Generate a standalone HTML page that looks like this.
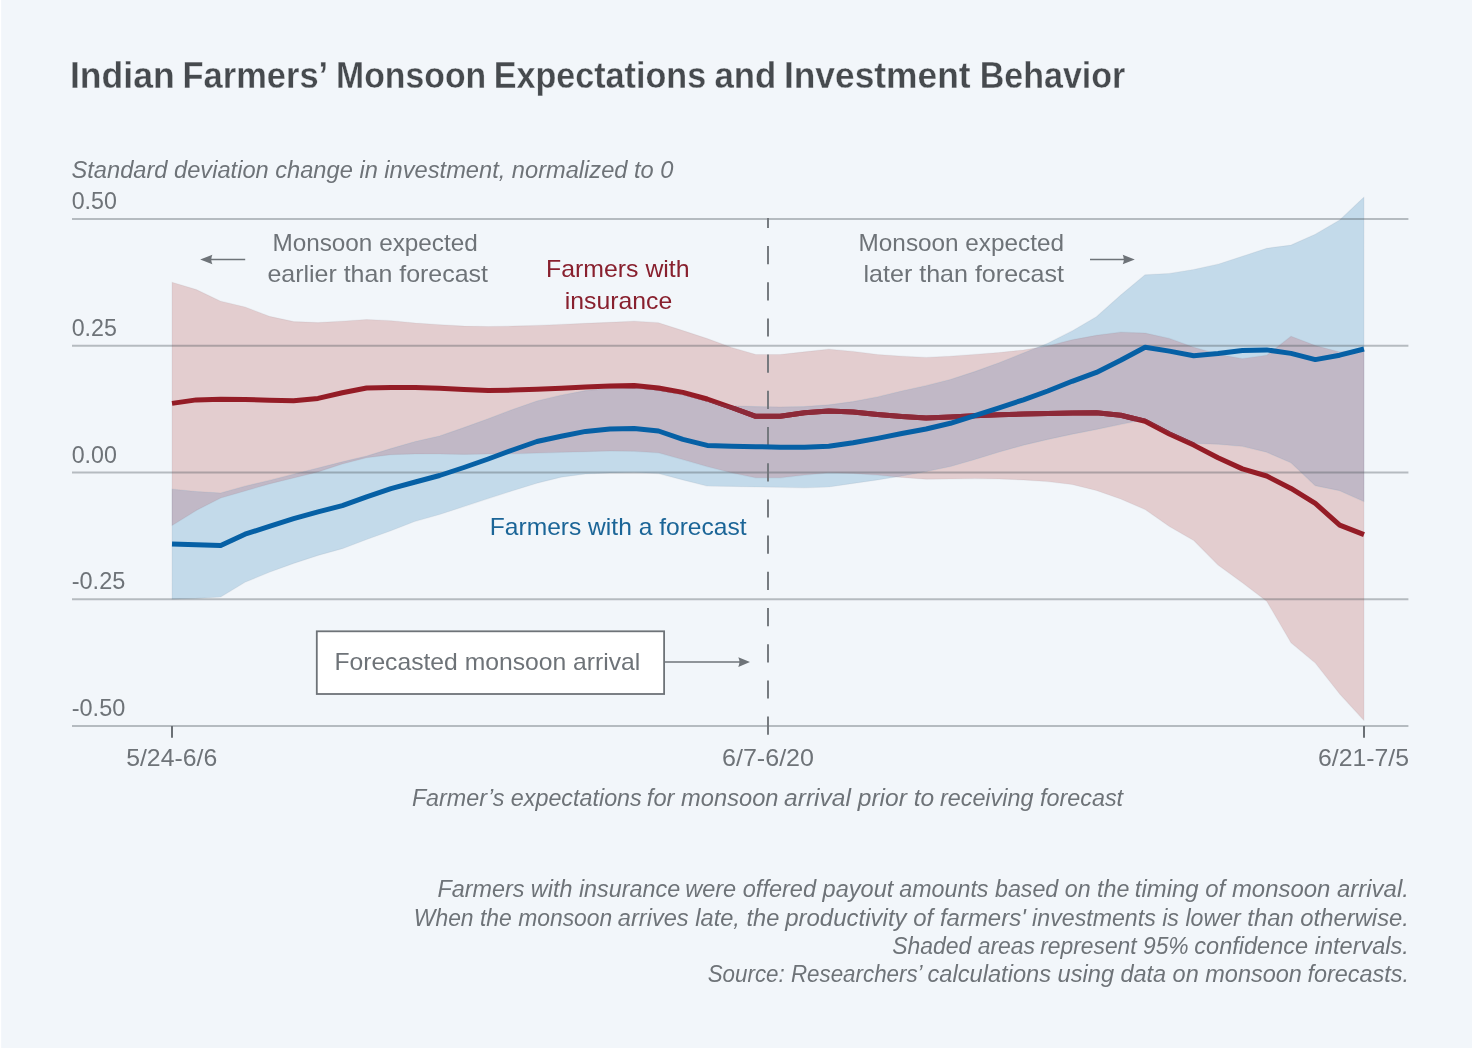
<!DOCTYPE html>
<html lang="en">
<head>
<meta charset="utf-8">
<title>Indian Farmers’ Monsoon Expectations and Investment Behavior</title>
<style>
html,body{margin:0;padding:0;background:#f2f6fa;}
body{width:1472px;height:1048px;overflow:hidden;}
svg{display:block;font-family:"Liberation Sans",sans-serif;}
</style>
</head>
<body>
<svg width="1472" height="1048" viewBox="0 0 1472 1048">
<defs>
<clipPath id="redclip"><polygon points="172.0,282.2 196.3,289.6 220.7,301.2 245.0,307.0 269.3,316.3 293.6,321.6 318.0,322.6 342.3,321.2 366.6,319.5 390.9,320.7 415.3,323.0 439.6,324.7 463.9,326.1 488.2,326.5 512.6,326.1 536.9,325.4 561.2,324.4 585.6,323.3 609.9,322.3 634.2,321.2 658.5,322.7 682.9,330.6 707.2,338.6 731.5,347.4 755.8,354.5 780.2,354.5 804.5,351.8 828.8,349.2 853.1,351.4 877.5,354.5 901.8,356.2 926.1,357.4 950.4,356.2 974.8,354.4 999.1,352.5 1023.4,350.0 1047.8,345.9 1072.1,339.8 1096.4,335.3 1120.7,332.2 1145.1,333.1 1169.4,338.4 1193.7,347.2 1218.0,354.3 1242.4,358.7 1266.7,355.2 1291.0,336.3 1315.3,345.5 1339.7,352.0 1364.0,349.0 1364.0,720.5 1339.7,694.0 1315.3,663.1 1291.0,642.8 1266.7,601.2 1242.4,582.7 1218.0,565.0 1193.7,540.5 1169.4,526.4 1145.1,509.6 1120.7,499.0 1096.4,490.5 1072.1,484.5 1047.8,481.6 1023.4,479.9 999.1,479.0 974.8,478.6 950.4,479.0 926.1,479.2 901.8,477.5 877.5,475.1 853.1,473.4 828.8,472.8 804.5,475.1 780.2,477.8 755.8,477.8 731.5,472.8 707.2,466.6 682.9,459.6 658.5,452.8 634.2,451.3 609.9,450.9 585.6,451.7 561.2,452.3 536.9,453.1 512.6,453.8 488.2,454.0 463.9,454.4 439.6,454.0 415.3,453.9 390.9,454.7 366.6,457.7 342.3,463.9 318.0,471.9 293.6,478.0 269.3,483.9 245.0,491.0 220.7,498.0 196.3,510.4 172.0,525.4"/></clipPath>
<clipPath id="blueclip"><polygon points="172.0,489.2 196.3,491.5 220.7,493.0 245.0,486.2 269.3,480.4 293.6,474.2 318.0,468.0 342.3,461.8 366.6,456.1 390.9,448.6 415.3,441.5 439.6,436.0 463.9,427.6 488.2,418.7 512.6,409.5 536.9,401.0 561.2,395.2 585.6,390.6 609.9,388.4 634.2,387.9 658.5,390.3 682.9,395.0 707.2,401.5 731.5,405.8 755.8,406.6 780.2,406.9 804.5,406.6 828.8,404.8 853.1,401.6 877.5,396.9 901.8,391.0 926.1,385.7 950.4,379.5 974.8,371.6 999.1,362.7 1023.4,353.0 1047.8,343.3 1072.1,330.9 1096.4,316.8 1120.7,295.1 1145.1,274.8 1169.4,273.4 1193.7,269.5 1218.0,264.2 1242.4,256.3 1266.7,248.3 1291.0,245.1 1315.3,234.2 1339.7,220.0 1364.0,197.1 1364.0,501.6 1339.7,490.7 1315.3,485.7 1291.0,462.8 1266.7,452.2 1242.4,446.3 1218.0,444.2 1193.7,443.5 1169.4,433.0 1145.1,419.4 1120.7,424.3 1096.4,429.4 1072.1,434.2 1047.8,439.4 1023.4,445.2 999.1,452.0 974.8,459.5 950.4,466.5 926.1,471.6 901.8,476.0 877.5,479.9 853.1,483.4 828.8,487.0 804.5,487.8 780.2,487.3 755.8,487.0 731.5,486.4 707.2,486.1 682.9,479.9 658.5,473.6 634.2,472.6 609.9,472.9 585.6,474.0 561.2,477.2 536.9,483.2 512.6,490.7 488.2,498.6 463.9,506.6 439.6,514.5 415.3,521.3 390.9,530.7 366.6,539.5 342.3,548.7 318.0,555.4 293.6,563.4 269.3,572.2 245.0,582.3 220.7,597.0 196.3,598.4 172.0,599.2"/></clipPath>
</defs>
<rect x="0" y="0" width="1472" height="1048" fill="#f2f6fa"/>
<rect x="0" y="0" width="1.2" height="1048" fill="#ffffff"/>
<!-- confidence bands -->
<polygon points="172.0,282.2 196.3,289.6 220.7,301.2 245.0,307.0 269.3,316.3 293.6,321.6 318.0,322.6 342.3,321.2 366.6,319.5 390.9,320.7 415.3,323.0 439.6,324.7 463.9,326.1 488.2,326.5 512.6,326.1 536.9,325.4 561.2,324.4 585.6,323.3 609.9,322.3 634.2,321.2 658.5,322.7 682.9,330.6 707.2,338.6 731.5,347.4 755.8,354.5 780.2,354.5 804.5,351.8 828.8,349.2 853.1,351.4 877.5,354.5 901.8,356.2 926.1,357.4 950.4,356.2 974.8,354.4 999.1,352.5 1023.4,350.0 1047.8,345.9 1072.1,339.8 1096.4,335.3 1120.7,332.2 1145.1,333.1 1169.4,338.4 1193.7,347.2 1218.0,354.3 1242.4,358.7 1266.7,355.2 1291.0,336.3 1315.3,345.5 1339.7,352.0 1364.0,349.0 1364.0,720.5 1339.7,694.0 1315.3,663.1 1291.0,642.8 1266.7,601.2 1242.4,582.7 1218.0,565.0 1193.7,540.5 1169.4,526.4 1145.1,509.6 1120.7,499.0 1096.4,490.5 1072.1,484.5 1047.8,481.6 1023.4,479.9 999.1,479.0 974.8,478.6 950.4,479.0 926.1,479.2 901.8,477.5 877.5,475.1 853.1,473.4 828.8,472.8 804.5,475.1 780.2,477.8 755.8,477.8 731.5,472.8 707.2,466.6 682.9,459.6 658.5,452.8 634.2,451.3 609.9,450.9 585.6,451.7 561.2,452.3 536.9,453.1 512.6,453.8 488.2,454.0 463.9,454.4 439.6,454.0 415.3,453.9 390.9,454.7 366.6,457.7 342.3,463.9 318.0,471.9 293.6,478.0 269.3,483.9 245.0,491.0 220.7,498.0 196.3,510.4 172.0,525.4" fill="#e3cdcf"/>
<polygon points="172.0,489.2 196.3,491.5 220.7,493.0 245.0,486.2 269.3,480.4 293.6,474.2 318.0,468.0 342.3,461.8 366.6,456.1 390.9,448.6 415.3,441.5 439.6,436.0 463.9,427.6 488.2,418.7 512.6,409.5 536.9,401.0 561.2,395.2 585.6,390.6 609.9,388.4 634.2,387.9 658.5,390.3 682.9,395.0 707.2,401.5 731.5,405.8 755.8,406.6 780.2,406.9 804.5,406.6 828.8,404.8 853.1,401.6 877.5,396.9 901.8,391.0 926.1,385.7 950.4,379.5 974.8,371.6 999.1,362.7 1023.4,353.0 1047.8,343.3 1072.1,330.9 1096.4,316.8 1120.7,295.1 1145.1,274.8 1169.4,273.4 1193.7,269.5 1218.0,264.2 1242.4,256.3 1266.7,248.3 1291.0,245.1 1315.3,234.2 1339.7,220.0 1364.0,197.1 1364.0,501.6 1339.7,490.7 1315.3,485.7 1291.0,462.8 1266.7,452.2 1242.4,446.3 1218.0,444.2 1193.7,443.5 1169.4,433.0 1145.1,419.4 1120.7,424.3 1096.4,429.4 1072.1,434.2 1047.8,439.4 1023.4,445.2 999.1,452.0 974.8,459.5 950.4,466.5 926.1,471.6 901.8,476.0 877.5,479.9 853.1,483.4 828.8,487.0 804.5,487.8 780.2,487.3 755.8,487.0 731.5,486.4 707.2,486.1 682.9,479.9 658.5,473.6 634.2,472.6 609.9,472.9 585.6,474.0 561.2,477.2 536.9,483.2 512.6,490.7 488.2,498.6 463.9,506.6 439.6,514.5 415.3,521.3 390.9,530.7 366.6,539.5 342.3,548.7 318.0,555.4 293.6,563.4 269.3,572.2 245.0,582.3 220.7,597.0 196.3,598.4 172.0,599.2" fill="#c3daea"/>
<polygon points="172.0,489.2 196.3,491.5 220.7,493.0 245.0,486.2 269.3,480.4 293.6,474.2 318.0,468.0 342.3,461.8 366.6,456.1 390.9,448.6 415.3,441.5 439.6,436.0 463.9,427.6 488.2,418.7 512.6,409.5 536.9,401.0 561.2,395.2 585.6,390.6 609.9,388.4 634.2,387.9 658.5,390.3 682.9,395.0 707.2,401.5 731.5,405.8 755.8,406.6 780.2,406.9 804.5,406.6 828.8,404.8 853.1,401.6 877.5,396.9 901.8,391.0 926.1,385.7 950.4,379.5 974.8,371.6 999.1,362.7 1023.4,353.0 1047.8,343.3 1072.1,330.9 1096.4,316.8 1120.7,295.1 1145.1,274.8 1169.4,273.4 1193.7,269.5 1218.0,264.2 1242.4,256.3 1266.7,248.3 1291.0,245.1 1315.3,234.2 1339.7,220.0 1364.0,197.1 1364.0,501.6 1339.7,490.7 1315.3,485.7 1291.0,462.8 1266.7,452.2 1242.4,446.3 1218.0,444.2 1193.7,443.5 1169.4,433.0 1145.1,419.4 1120.7,424.3 1096.4,429.4 1072.1,434.2 1047.8,439.4 1023.4,445.2 999.1,452.0 974.8,459.5 950.4,466.5 926.1,471.6 901.8,476.0 877.5,479.9 853.1,483.4 828.8,487.0 804.5,487.8 780.2,487.3 755.8,487.0 731.5,486.4 707.2,486.1 682.9,479.9 658.5,473.6 634.2,472.6 609.9,472.9 585.6,474.0 561.2,477.2 536.9,483.2 512.6,490.7 488.2,498.6 463.9,506.6 439.6,514.5 415.3,521.3 390.9,530.7 366.6,539.5 342.3,548.7 318.0,555.4 293.6,563.4 269.3,572.2 245.0,582.3 220.7,597.0 196.3,598.4 172.0,599.2" fill="#c1b8c6" clip-path="url(#redclip)"/>
<g fill="none" stroke="#3c4650" stroke-opacity="0.06" stroke-width="1.2" stroke-linejoin="round">
<polygon points="172.0,282.2 196.3,289.6 220.7,301.2 245.0,307.0 269.3,316.3 293.6,321.6 318.0,322.6 342.3,321.2 366.6,319.5 390.9,320.7 415.3,323.0 439.6,324.7 463.9,326.1 488.2,326.5 512.6,326.1 536.9,325.4 561.2,324.4 585.6,323.3 609.9,322.3 634.2,321.2 658.5,322.7 682.9,330.6 707.2,338.6 731.5,347.4 755.8,354.5 780.2,354.5 804.5,351.8 828.8,349.2 853.1,351.4 877.5,354.5 901.8,356.2 926.1,357.4 950.4,356.2 974.8,354.4 999.1,352.5 1023.4,350.0 1047.8,345.9 1072.1,339.8 1096.4,335.3 1120.7,332.2 1145.1,333.1 1169.4,338.4 1193.7,347.2 1218.0,354.3 1242.4,358.7 1266.7,355.2 1291.0,336.3 1315.3,345.5 1339.7,352.0 1364.0,349.0 1364.0,720.5 1339.7,694.0 1315.3,663.1 1291.0,642.8 1266.7,601.2 1242.4,582.7 1218.0,565.0 1193.7,540.5 1169.4,526.4 1145.1,509.6 1120.7,499.0 1096.4,490.5 1072.1,484.5 1047.8,481.6 1023.4,479.9 999.1,479.0 974.8,478.6 950.4,479.0 926.1,479.2 901.8,477.5 877.5,475.1 853.1,473.4 828.8,472.8 804.5,475.1 780.2,477.8 755.8,477.8 731.5,472.8 707.2,466.6 682.9,459.6 658.5,452.8 634.2,451.3 609.9,450.9 585.6,451.7 561.2,452.3 536.9,453.1 512.6,453.8 488.2,454.0 463.9,454.4 439.6,454.0 415.3,453.9 390.9,454.7 366.6,457.7 342.3,463.9 318.0,471.9 293.6,478.0 269.3,483.9 245.0,491.0 220.7,498.0 196.3,510.4 172.0,525.4"/>
<polygon points="172.0,489.2 196.3,491.5 220.7,493.0 245.0,486.2 269.3,480.4 293.6,474.2 318.0,468.0 342.3,461.8 366.6,456.1 390.9,448.6 415.3,441.5 439.6,436.0 463.9,427.6 488.2,418.7 512.6,409.5 536.9,401.0 561.2,395.2 585.6,390.6 609.9,388.4 634.2,387.9 658.5,390.3 682.9,395.0 707.2,401.5 731.5,405.8 755.8,406.6 780.2,406.9 804.5,406.6 828.8,404.8 853.1,401.6 877.5,396.9 901.8,391.0 926.1,385.7 950.4,379.5 974.8,371.6 999.1,362.7 1023.4,353.0 1047.8,343.3 1072.1,330.9 1096.4,316.8 1120.7,295.1 1145.1,274.8 1169.4,273.4 1193.7,269.5 1218.0,264.2 1242.4,256.3 1266.7,248.3 1291.0,245.1 1315.3,234.2 1339.7,220.0 1364.0,197.1 1364.0,501.6 1339.7,490.7 1315.3,485.7 1291.0,462.8 1266.7,452.2 1242.4,446.3 1218.0,444.2 1193.7,443.5 1169.4,433.0 1145.1,419.4 1120.7,424.3 1096.4,429.4 1072.1,434.2 1047.8,439.4 1023.4,445.2 999.1,452.0 974.8,459.5 950.4,466.5 926.1,471.6 901.8,476.0 877.5,479.9 853.1,483.4 828.8,487.0 804.5,487.8 780.2,487.3 755.8,487.0 731.5,486.4 707.2,486.1 682.9,479.9 658.5,473.6 634.2,472.6 609.9,472.9 585.6,474.0 561.2,477.2 536.9,483.2 512.6,490.7 488.2,498.6 463.9,506.6 439.6,514.5 415.3,521.3 390.9,530.7 366.6,539.5 342.3,548.7 318.0,555.4 293.6,563.4 269.3,572.2 245.0,582.3 220.7,597.0 196.3,598.4 172.0,599.2"/>
</g>
<!-- gridlines -->
<g stroke="rgba(70,78,82,0.35)" stroke-width="2" fill="none">
<line x1="72" x2="1408.4" y1="219.0" y2="219.0"/>
<line x1="72" x2="1408.4" y1="345.75" y2="345.75"/>
<line x1="72" x2="1408.4" y1="472.5" y2="472.5"/>
<line x1="72" x2="1408.4" y1="599.2" y2="599.2"/>
<line x1="72" x2="1408.4" y1="725.9" y2="725.9"/>
</g>
<!-- forecast dashed line -->
<line x1="768" x2="768" y1="218" y2="737.5" stroke="#71767b" stroke-width="1.9" stroke-dasharray="18.2 18" stroke-dashoffset="8.2"/>
<!-- ticks -->
<g stroke="#6b7075" stroke-width="2">
<line x1="172" x2="172" y1="726" y2="737.8"/>
<line x1="1364" x2="1364" y1="726" y2="737.8"/>
</g>
<!-- series -->
<polyline points="172.0,403.4 196.3,399.9 220.7,399.3 245.0,399.5 269.3,400.2 293.6,400.7 318.0,398.4 342.3,392.8 366.6,388.0 390.9,387.5 415.3,387.5 439.6,388.3 463.9,389.6 488.2,390.5 512.6,390.1 536.9,389.2 561.2,388.3 585.6,387.1 609.9,386.0 634.2,385.5 658.5,388.0 682.9,392.4 707.2,399.0 731.5,407.5 755.8,416.3 780.2,416.3 804.5,412.8 828.8,411.0 853.1,411.9 877.5,414.5 901.8,416.6 926.1,418.0 950.4,417.0 974.8,415.7 999.1,414.8 1023.4,414.0 1047.8,413.4 1072.1,413.1 1096.4,412.7 1120.7,415.2 1145.1,421.2 1169.4,434.0 1193.7,445.1 1218.0,457.8 1242.4,468.9 1266.7,476.0 1291.0,488.4 1315.3,503.4 1339.7,525.1 1364.0,534.7" fill="none" stroke="#941c26" stroke-width="5" stroke-linejoin="round"/>
<polyline points="172.0,403.4 196.3,399.9 220.7,399.3 245.0,399.5 269.3,400.2 293.6,400.7 318.0,398.4 342.3,392.8 366.6,388.0 390.9,387.5 415.3,387.5 439.6,388.3 463.9,389.6 488.2,390.5 512.6,390.1 536.9,389.2 561.2,388.3 585.6,387.1 609.9,386.0 634.2,385.5 658.5,388.0 682.9,392.4 707.2,399.0 731.5,407.5 755.8,416.3 780.2,416.3 804.5,412.8 828.8,411.0 853.1,411.9 877.5,414.5 901.8,416.6 926.1,418.0 950.4,417.0 974.8,415.7 999.1,414.8 1023.4,414.0 1047.8,413.4 1072.1,413.1 1096.4,412.7 1120.7,415.2 1145.1,421.2 1169.4,434.0 1193.7,445.1 1218.0,457.8 1242.4,468.9 1266.7,476.0 1291.0,488.4 1315.3,503.4 1339.7,525.1 1364.0,534.7" fill="none" stroke="#8c2a39" stroke-width="5" stroke-linejoin="round" clip-path="url(#blueclip)"/>
<polyline points="172.0,544.0 196.3,544.8 220.7,545.4 245.0,534.2 269.3,526.3 293.6,518.7 318.0,511.8 342.3,505.6 366.6,496.8 390.9,488.7 415.3,482.0 439.6,475.5 463.9,467.5 488.2,459.0 512.6,450.0 536.9,441.5 561.2,436.2 585.6,431.4 609.9,429.0 634.2,428.6 658.5,431.0 682.9,439.3 707.2,445.4 731.5,446.3 755.8,446.7 780.2,447.2 804.5,447.2 828.8,446.3 853.1,442.8 877.5,438.4 901.8,433.5 926.1,429.0 950.4,423.3 974.8,415.7 999.1,407.8 1023.4,399.8 1047.8,391.0 1072.1,381.3 1096.4,372.4 1120.7,360.3 1145.1,347.2 1169.4,351.1 1193.7,355.7 1218.0,353.4 1242.4,350.4 1266.7,349.9 1291.0,353.4 1315.3,359.6 1339.7,355.2 1364.0,349.0" fill="none" stroke="#0660a5" stroke-width="5" stroke-linejoin="round"/>
<!-- annotation box -->
<rect x="316.8" y="631.3" width="347.3" height="62.7" fill="#ffffff" stroke="#6e7378" stroke-width="1.8"/>
<g stroke="#6e7378" stroke-width="1.5" fill="#6e7378">
<line x1="664" x2="741" y1="662.1" y2="662.1"/>
<path d="M750 662.1 L738.3 657.3 Q740.6 662.1 738.3 666.9 Z" stroke="none"/>
<line x1="209" x2="245.2" y1="259.5" y2="259.5"/>
<path d="M200.2 259.5 L212.4 254.7 Q210.2 259.5 212.4 264.3 Z" stroke="none"/>
<line x1="1090" x2="1126" y1="259.5" y2="259.5"/>
<path d="M1134.8 259.5 L1122.7 254.7 Q1124.9 259.5 1122.7 264.3 Z" stroke="none"/>
</g>
<g>
<text y="87.8" font-size="36" fill="#464a4e" font-weight="bold" stroke="#f2f6fa" stroke-width="0.3"><tspan x="69.98" textLength="104.75" lengthAdjust="spacingAndGlyphs">Indian</tspan> <tspan x="182.57" textLength="143.74" lengthAdjust="spacingAndGlyphs">Farmers’</tspan> <tspan x="335.99" textLength="150.2" lengthAdjust="spacingAndGlyphs">Monsoon</tspan> <tspan x="493.67" textLength="212.49" lengthAdjust="spacingAndGlyphs">Expectations</tspan> <tspan x="714.43" textLength="61.86" lengthAdjust="spacingAndGlyphs">and</tspan> <tspan x="783.89" textLength="186.72" lengthAdjust="spacingAndGlyphs">Investment</tspan> <tspan x="979.67" textLength="145.66" lengthAdjust="spacingAndGlyphs">Behavior</tspan></text>
<text x="71.5" y="178" font-size="24.3" fill="#6e7378" font-style="italic" textLength="602" lengthAdjust="spacingAndGlyphs">Standard deviation change in investment, normalized to 0</text>
<text x="71.7" y="209.0" font-size="23.7" fill="#6e7378" textLength="45.2" lengthAdjust="spacingAndGlyphs">0.50</text>
<text x="71.7" y="335.8" font-size="23.7" fill="#6e7378" textLength="45.2" lengthAdjust="spacingAndGlyphs">0.25</text>
<text x="71.7" y="462.5" font-size="23.7" fill="#6e7378" textLength="45.2" lengthAdjust="spacingAndGlyphs">0.00</text>
<text x="71.7" y="589.2" font-size="23.7" fill="#6e7378" textLength="53.6" lengthAdjust="spacingAndGlyphs">-0.25</text>
<text x="71.7" y="715.9" font-size="23.7" fill="#6e7378" textLength="53.6" lengthAdjust="spacingAndGlyphs">-0.50</text>
<text x="272.4" y="250.6" font-size="24" fill="#6e7378" textLength="205.4" lengthAdjust="spacingAndGlyphs">Monsoon expected</text>
<text x="267.4" y="282.2" font-size="24" fill="#6e7378" textLength="220.6" lengthAdjust="spacingAndGlyphs">earlier than forecast</text>
<text x="858.6" y="250.6" font-size="24" fill="#6e7378" textLength="205.4" lengthAdjust="spacingAndGlyphs">Monsoon expected</text>
<text x="863.5" y="282.2" font-size="24" fill="#6e7378" textLength="200.5" lengthAdjust="spacingAndGlyphs">later than forecast</text>
<text x="546" y="277.4" font-size="24" fill="#88202e" textLength="143.6" lengthAdjust="spacingAndGlyphs">Farmers with</text>
<text x="564.8" y="309.1" font-size="24" fill="#88202e" textLength="107.4" lengthAdjust="spacingAndGlyphs">insurance</text>
<text x="489.8" y="534.8" font-size="24" fill="#1b6597" textLength="256.8" lengthAdjust="spacingAndGlyphs">Farmers with a forecast</text>
<text x="334.4" y="669.7" font-size="24" fill="#6e7378" textLength="305.8" lengthAdjust="spacingAndGlyphs">Forecasted monsoon arrival</text>
<text x="126.2" y="765.6" font-size="24" fill="#6e7378" textLength="91" lengthAdjust="spacingAndGlyphs">5/24-6/6</text>
<text x="722" y="765.6" font-size="24" fill="#6e7378" textLength="92" lengthAdjust="spacingAndGlyphs">6/7-6/20</text>
<text x="1318" y="765.6" font-size="24" fill="#6e7378" textLength="91" lengthAdjust="spacingAndGlyphs">6/21-7/5</text>
<text y="806.2" font-size="24.3" fill="#6e7378" font-style="italic"><tspan x="411.88" textLength="229.88" lengthAdjust="spacingAndGlyphs">Farmer’s expectations</tspan> <tspan x="646.87" textLength="131.67" lengthAdjust="spacingAndGlyphs">for monsoon</tspan> <tspan x="784.09" textLength="150.09" lengthAdjust="spacingAndGlyphs">arrival prior to</tspan> <tspan x="939.92" textLength="183.18" lengthAdjust="spacingAndGlyphs">receiving forecast</tspan></text>
<text y="897.4" font-size="24.3" fill="#6e7378" font-style="italic"><tspan x="437.38" textLength="242.84" lengthAdjust="spacingAndGlyphs">Farmers with insurance</tspan> <tspan x="685.19" textLength="208.1" lengthAdjust="spacingAndGlyphs">were offered payout</tspan> <tspan x="899.32" textLength="230.09" lengthAdjust="spacingAndGlyphs">amounts based on the</tspan> <tspan x="1134.81" textLength="274.08" lengthAdjust="spacingAndGlyphs">timing of monsoon arrival.</tspan></text>
<text y="925.5" font-size="24.3" fill="#6e7378" font-style="italic"><tspan x="413.82" textLength="198.48" lengthAdjust="spacingAndGlyphs">When the monsoon</tspan> <tspan x="617.81" textLength="161.52" lengthAdjust="spacingAndGlyphs">arrives late, the</tspan> <tspan x="785.19" textLength="240.6" lengthAdjust="spacingAndGlyphs">productivity of farmers'</tspan> <tspan x="1032.12" textLength="208.66" lengthAdjust="spacingAndGlyphs">investments is lower</tspan> <tspan x="1247.32" textLength="161.65" lengthAdjust="spacingAndGlyphs">than otherwise.</tspan></text>
<text y="953.7" font-size="24.3" fill="#6e7378" font-style="italic"><tspan x="892.19" textLength="142.84" lengthAdjust="spacingAndGlyphs">Shaded areas</tspan> <tspan x="1040.23" textLength="148.44" lengthAdjust="spacingAndGlyphs">represent 95%</tspan> <tspan x="1194.27" textLength="214.63" lengthAdjust="spacingAndGlyphs">confidence intervals.</tspan></text>
<text y="981.7" font-size="24.3" fill="#6e7378" font-style="italic"><tspan x="707.71" textLength="213.64" lengthAdjust="spacingAndGlyphs">Source: Researchers’</tspan> <tspan x="927.47" textLength="186.62" lengthAdjust="spacingAndGlyphs">calculations using</tspan> <tspan x="1120.38" textLength="181.52" lengthAdjust="spacingAndGlyphs">data on monsoon</tspan> <tspan x="1307.48" textLength="101.49" lengthAdjust="spacingAndGlyphs">forecasts.</tspan></text>
</g>
</svg>
</body>
</html>
